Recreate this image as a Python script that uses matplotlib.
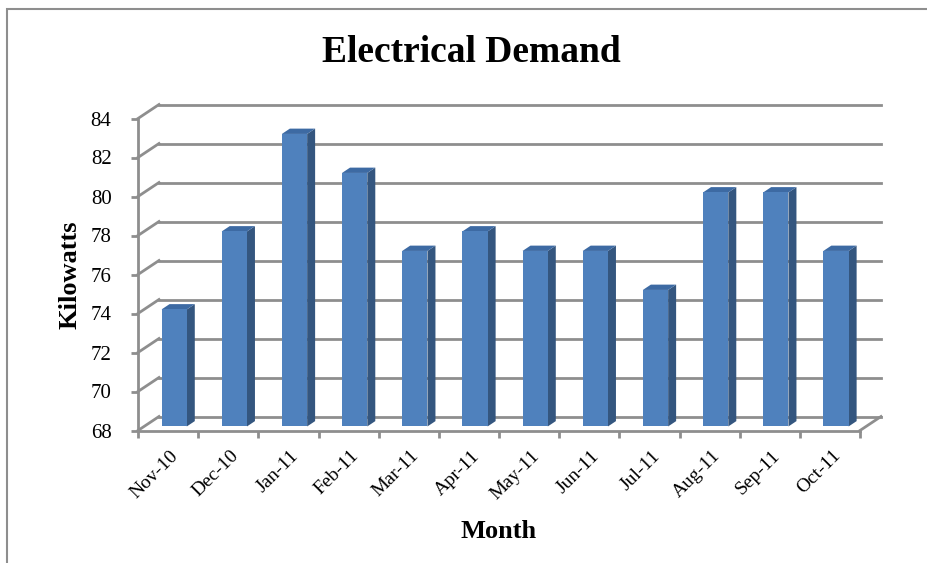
import numpy as np
import matplotlib
matplotlib.use("Agg")
import matplotlib.pyplot as plt
from matplotlib.patches import Polygon, Rectangle

months = ["Nov-10", "Dec-10", "Jan-11", "Feb-11", "Mar-11", "Apr-11",
          "May-11", "Jun-11", "Jul-11", "Aug-11", "Sep-11", "Oct-11"]
kilowatts = [74, 78, 83, 81, 77, 78, 77, 77, 75, 80, 80, 77]
yticks = [68, 70, 72, 74, 76, 78, 80, 82, 84]

plt.rcParams["font.family"] = ["Liberation Serif", "DejaVu Serif"]

W, H = 927, 563
fig = plt.figure(figsize=(W / 100, H / 100), dpi=100)

# front plane of the 3d box in pixels
x0, x1 = 138, 860
ytop, ybot = 118.5, 430.5
ax = fig.add_axes([x0 / W, 1 - ybot / H, (x1 - x0) / W, (ybot - ytop) / H])
ax.set_xlim(0, 12)
ax.set_ylim(68, 84)

grid_c = "#8e8e8e"
front_c = "#4f81bd"
side_c = "#34567f"
top_c = "#3d6aa3"

# depth offset of the back wall, data units
DX = 21 / ((x1 - x0) / 12)
DY = 14 / ((ybot - ytop) / 16)

for s in ["top", "right"]:
    ax.spines[s].set_visible(False)
for s in ["left", "bottom"]:
    ax.spines[s].set_color(grid_c)
    ax.spines[s].set_linewidth(2)

# back wall and left wall lines
for v in yticks:
    ax.plot([DX, 12 + DX], [v + DY, v + DY], color=grid_c, lw=2, clip_on=False, zorder=1)
    ax.plot([0, DX], [v, v + DY], color=grid_c, lw=2, clip_on=False, zorder=1)
# floor right edge
ax.plot([12, 12 + DX], [68, 68 + DY], color=grid_c, lw=2, clip_on=False, zorder=1)

# bars
f1, f2 = 0.29, 0.67
bw = 0.42
d, dd = (f2 - f1) * DX, (f2 - f1) * DY
for i, v in enumerate(kilowatts):
    xl = i + 0.5 - bw / 2 + f1 * DX
    xr = xl + bw
    yb = 68 + f1 * DY
    yt = v + f1 * DY
    ax.add_patch(Polygon([(xr, yb), (xr + d, yb + dd), (xr + d, yt + dd), (xr, yt)],
                         closed=True, fc=side_c, ec="none", zorder=3, clip_on=False))
    ax.add_patch(Polygon([(xl, yt), (xr, yt), (xr + d, yt + dd), (xl + d, yt + dd)],
                         closed=True, fc=top_c, ec="none", zorder=3, clip_on=False))
    ax.add_patch(Rectangle((xl, yb), bw, yt - yb, fc=front_c, ec="none", zorder=4, clip_on=False))

ax.set_yticks(yticks)
ax.set_yticklabels([str(t) for t in yticks], fontsize=15)
ax.set_xticks(np.arange(13))
ax.set_xticklabels([])
ax.tick_params(axis="both", color=grid_c, width=2, length=5, direction="out")
ax.tick_params(axis="y", pad=14)

for i, m in enumerate(months):
    ax.annotate(m, xy=(i + 0.53, 68), xycoords="data", xytext=(0, -12),
                textcoords="offset points", rotation=45, rotation_mode="anchor",
                ha="right", va="top", fontsize=14)

fig.text(471 / W, 1 - 52 / H, "Electrical Demand", ha="center", va="center",
         fontsize=27, fontweight="bold")
fig.text(70 / W, 1 - 275 / H, "Kilowatts", ha="center", va="center",
         rotation=90, fontsize=19, fontweight="bold")
fig.text(499 / W, 1 - 532 / H, "Month", ha="center", va="center",
         fontsize=19, fontweight="bold")

# chart area frame
fig.patches.append(Rectangle((7 / W, -0.05), 1.1, 1 - 9 / H + 0.05,
                             transform=fig.transFigure, fill=False,
                             ec=grid_c, lw=1.5))

fig.savefig("out.png", dpi=100)
